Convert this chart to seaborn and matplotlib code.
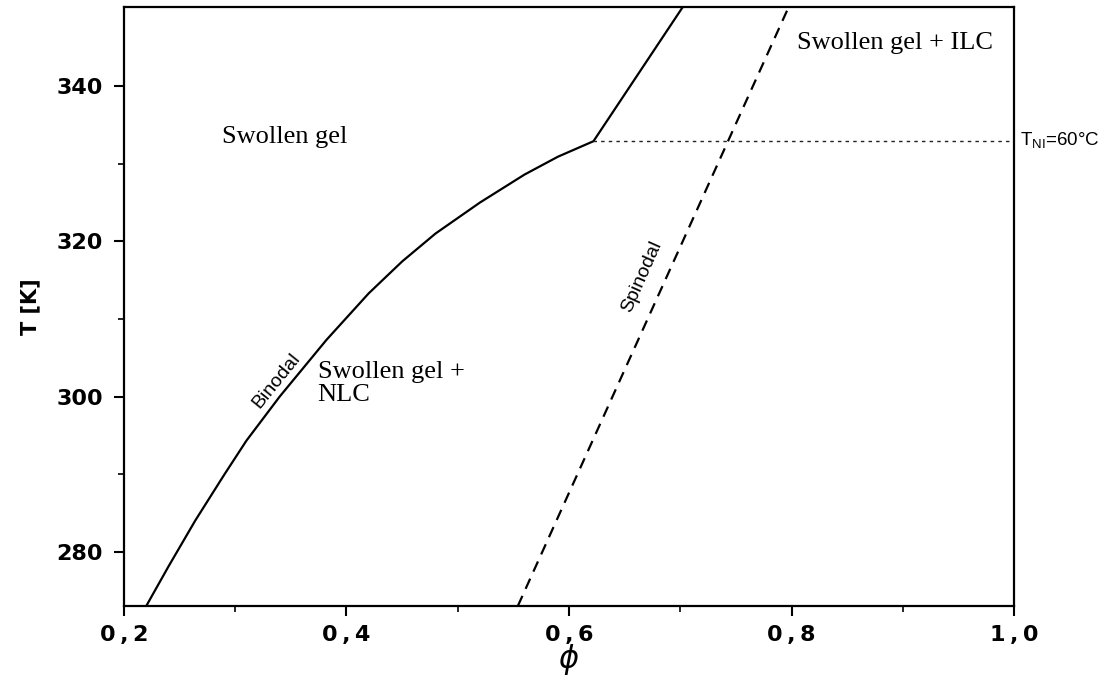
import matplotlib
matplotlib.use("Agg")
import matplotlib.pyplot as plt
import seaborn as sns
import pandas as pd
from matplotlib.ticker import FixedLocator

# ---- data ----
phi_binodal = [0.220, 0.240, 0.264, 0.290, 0.310, 0.340, 0.382, 0.420, 0.450,
               0.480, 0.520, 0.560, 0.590, 0.622, 0.706]
T_binodal = [273.0, 278.1, 284.0, 289.9, 294.3, 300.0, 307.3, 313.3, 317.4,
             321.0, 325.0, 328.6, 330.9, 332.9, 351.0]
phi_spinodal = [0.554, 0.800]
T_spinodal = [273.0, 351.0]
phi_tni = [0.622, 1.0]
T_tni = [332.9, 332.9]

x_ticks = [0.2, 0.4, 0.6, 0.8, 1.0]
x_minor = [0.3, 0.5, 0.7, 0.9]
x_ticklabels = ["0\u2009,\u20092", "0\u2009,\u20094", "0\u2009,\u20096", "0\u2009,\u20098", "1\u2009,\u20090"]
y_ticks = [280, 300, 320, 340]
y_minor = [290, 310, 330]
y_ticklabels = ["280", "300", "320", "340"]

sns.set_style("ticks")
plt.rcParams["font.family"] = ["DejaVu Sans"]
plt.rcParams["text.color"] = "black"
plt.rcParams["axes.labelcolor"] = "black"
plt.rcParams["xtick.color"] = "black"
plt.rcParams["ytick.color"] = "black"

fig = plt.figure(figsize=(11.11, 6.83), dpi=100)
ax = fig.add_axes([0.1116, 0.1127, 0.8011, 0.8771])

df_b = pd.DataFrame({"phi": phi_binodal, "T": T_binodal})
df_s = pd.DataFrame({"phi": phi_spinodal, "T": T_spinodal})
df_t = pd.DataFrame({"phi": phi_tni, "T": T_tni})

sns.lineplot(data=df_b, x="phi", y="T", ax=ax, color="black", lw=1.6,
             estimator=None, sort=False)
sns.lineplot(data=df_s, x="phi", y="T", ax=ax, color="black", lw=1.6,
             estimator=None, sort=False, linestyle=(0, (5, 3.5)))
sns.lineplot(data=df_t, x="phi", y="T", ax=ax, color="#222222", lw=1.0,
             estimator=None, sort=False, linestyle=(0, (2.5, 3)))

ax.set_xlim(0.2, 1.0)
ax.set_ylim(273, 350.2)

ax.set_xticks(x_ticks)
ax.set_xticklabels(x_ticklabels, fontweight="bold", fontsize=16)
ax.set_yticks(y_ticks)
ax.set_yticklabels(y_ticklabels, fontweight="bold", fontsize=16)
ax.xaxis.set_minor_locator(FixedLocator(x_minor))
ax.yaxis.set_minor_locator(FixedLocator(y_minor))
ax.tick_params(which="major", direction="out", length=7, width=1.5, color="black", pad=7)
ax.tick_params(which="minor", direction="out", length=4.5, width=1.2, color="black")
ax.tick_params(axis="y", which="major", pad=8)

for s in ax.spines.values():
    s.set_visible(True)
    s.set_linewidth(1.6)
    s.set_color("black")

ax.set_xlabel(r"$\phi$", fontsize=22)
ax.xaxis.set_label_coords(0.5, -0.09)
ax.xaxis.label.set_va("center")
ax.set_ylabel("T [K]", fontsize=15, fontweight="bold")
ax.yaxis.set_label_coords(-0.1056, 0.5)
ax.yaxis.label.set_va("center")

serif = ["Liberation Serif", "DejaVu Serif"]
ax.text(0.288, 333.4, "Swollen gel", family=serif, fontsize=19, ha="left", va="center")
ax.text(0.374, 301.7, "Swollen gel +\nNLC", family=serif, fontsize=19, ha="left",
        va="center", linespacing=1.05)
ax.text(0.805, 345.5, "Swollen gel + ILC", family=serif, fontsize=19, ha="left", va="center")

sans = ["Liberation Sans", "DejaVu Sans"]
ax.text(0.337, 302.0, "Binodal", fontsize=14, rotation=51, ha="center", va="center",
        family=sans, rotation_mode="anchor")
ax.text(0.6656, 315.4, "Spinodal", fontsize=14, rotation=66, ha="center", va="center",
        family=sans, rotation_mode="anchor")

ax.text(1.005, 332.9, r"T$_{\mathregular{NI}}$=60°C", fontsize=13.5, ha="left", va="center",
        family=sans, clip_on=False)

fig.savefig("out.png", dpi=100)
